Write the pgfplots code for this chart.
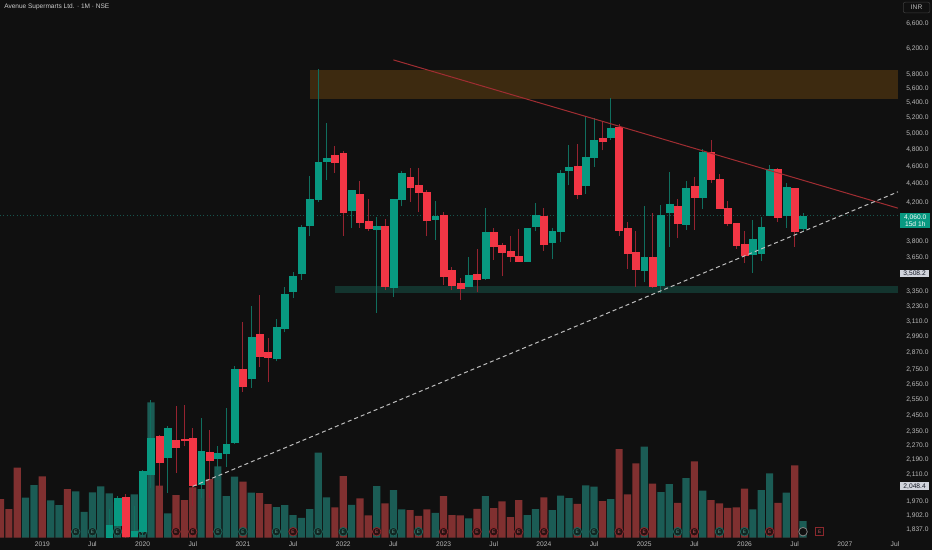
\documentclass[border=0pt]{standalone}
\usepackage{fontspec}
\setmainfont{Liberation Sans}
\usepackage{pgfplots}
\usepackage{pgfplotstable}
\pgfplotsset{compat=1.18}
\definecolor{bg}{RGB}{16,16,16}
\definecolor{upc}{RGB}{8,153,129}
\definecolor{dnc}{RGB}{242,54,69}
\definecolor{upw}{RGB}{16,110,94}
\definecolor{dnw}{RGB}{150,35,48}
\definecolor{vup}{RGB}{27,92,85}
\definecolor{vdn}{RGB}{128,48,48}
\definecolor{zoneo}{RGB}{61,42,16}
\definecolor{zonet}{RGB}{19,52,46}
\definecolor{trendr}{RGB}{160,45,50}
\definecolor{dashc}{RGB}{190,190,190}
\definecolor{lbl}{RGB}{185,185,185}
\definecolor{ttl}{RGB}{205,205,205}
\definecolor{lastc}{RGB}{22,85,76}
\definecolor{lbx}{RGB}{209,212,220}
\definecolor{lbxt}{RGB}{19,23,34}
\definecolor{inrb}{RGB}{60,60,60}
\definecolor{egf}{RGB}{18,38,34}
\definecolor{erf}{RGB}{40,18,18}
\definecolor{egd}{RGB}{30,100,90}
\definecolor{erd}{RGB}{140,40,45}
\definecolor{egt}{RGB}{90,160,150}
\definecolor{ert}{RGB}{200,90,95}
\newcommand\lblfont{\fontsize{5}{6}\selectfont}
\newcommand\efont{\fontsize{3.6}{4}\selectfont}

\pgfplotstableread{
m o h l c
8 1790 1936 1760 1855
9 1859 2000 1850 1986
10 1992 2010 1795 1808
11 1808 1951 1803 1831
12 1831 2137 1800 2128
13 2110 2550 2040 2315
14 2324 2330 2040 2176
15 2206 2383 2015 2374
16 2301 2511 2119 2260
17 2308 2518 2266 2302
18 2315 2374 1947 2052
19 2057 2434 1989 2241
20 2234 2360 1989 2191
21 2202 2266 2137 2229
22 2229 2497 2151 2280
23 2290 2774 2280 2751
24 2756 3107 2599 2637
25 2689 3233 2627 2984
26 3010 3319 2767 2847
27 2876 2980 2666 2840
28 2830 3127 2809 3059
29 3056 3390 3022 3331
30 3358 3520 3297 3488
31 3515 3964 3453 3944
32 3966 4484 3853 4237
33 4234 5878 4198 4647
34 4660 5138 4446 4700
35 4732 4844 4525 4654
36 4760 4787 3860 4100
37 4113 4335 3938 4327
38 4284 4431 3938 3997
39 4008 4234 3906 3939
40 3925 4043 3175 3958
41 3957 4030 3364 3397
42 3386 4234 3308 4234
43 4234 4544 4156 4525
44 4478 4583 4208 4366
45 4384 4580 4096 4304
46 4312 4335 3853 4011
47 4029 4216 3820 4059
48 4069 4103 3410 3486
49 3540 3565 3367 3404
50 3427 3470 3283 3384
51 3399 3658 3395 3494
52 3500 3734 3345 3456
53 3463 4139 3453 3896
54 3896 3933 3632 3756
55 3765 3791 3485 3707
56 3716 3853 3611 3663
57 3663 3927 3611 3617
58 3617 3940 3611 3938
59 3950 4192 3906 4064
60 4060 4142 3718 3780
61 3793 3935 3638 3909
62 3909 4553 3797 4518
63 4552 4856 4384 4590
64 4597 4869 4237 4288
65 4381 5209 4291 4707
66 4711 5200 4594 4919
67 4935 5165 4788 4907
68 4947 5464 4919 5065
69 5072 5122 3860 3911
70 3938 4000 3550 3697
71 3707 3909 3394 3547
72 3541 4156 3430 3655
73 3659 4085 3386 3397
74 3410 4174 3339 4069
75 4096 4532 3753 4184
76 4163 4237 3834 3989
77 3979 4428 3918 4354
78 4376 4475 3918 4251
79 4251 4802 4128 4765
80 4765 4911 4408 4457
81 4457 4513 4130 4139
82 4139 4209 3952 3989
83 3983 3989 3733 3767
84 3780 3909 3601 3676
85 3682 4018 3517 3830
86 3689 4043 3617 3941
87 4064 4621 4054 4571
88 4571 4575 3995 4044
89 4064 4412 3941 4365
90 4354 4356 3753 3909
91 3939 4088 3906 4060
}\candles

\pgfplotstableread{
m v u
-5 38.3 0
-4 28.3 0
-3 69.7 0
-2 39.7 1
-1 52.3 1
0 61 0
1 37 1
2 32.3 1
3 48.3 0
4 46 1
5 25.7 1
6 45 1
7 51 1
8 44 1
9 35 1
10 30 0
11 43 1
12 60 1
13 135 1
14 51.7 0
15 24 1
16 42.3 0
17 37.3 0
18 50 0
19 48.3 1
20 58.3 0
21 71 1
22 41.3 1
23 60.7 1
24 55.7 0
25 44.7 1
26 44.3 0
27 33.3 0
28 30.3 1
29 32.3 1
30 22.3 1
31 19.7 1
32 28.3 1
33 84.7 1
34 40 1
35 30 0
36 61.3 0
37 32.7 1
38 39 0
39 22 0
40 51.3 1
41 34 0
42 47.3 1
43 28 1
44 27.3 0
45 21.7 0
46 28 0
47 24.7 1
48 41.3 0
49 22.3 0
50 22 0
51 19 1
52 28.7 0
53 41.3 1
54 29.3 0
55 36 0
56 20.3 0
57 37.3 0
58 22.3 1
59 28.3 1
60 40 0
61 27.3 1
62 41.7 1
63 39.3 1
64 33.7 0
65 52 1
66 50.7 1
67 36.3 0
68 38.3 1
69 88.3 0
70 43 0
71 74 0
72 90.7 1
73 53.7 0
74 45.3 1
75 53.3 1
76 34.7 0
77 59.3 1
78 76 0
79 46.7 1
80 37.3 0
81 34 0
82 29.7 0
83 30 0
84 48.7 0
85 28 1
86 47.3 1
87 64 1
88 34.7 0
89 44.7 1
90 72 0
91 16.3 1
}\vols

\begin{document}
\begin{tikzpicture}
\fill[bg] (0,0) rectangle (699pt,412.5pt);
\pgfplotstablegetrowsof{\candles}
\pgfmathtruncatemacro\lastrow{\pgfplotsretval-1}

% ---------- volume pane ----------
\begin{axis}[at={(0pt,9.375pt)}, anchor=south west, scale only axis,
  width=673.5pt, height=403.125pt,
  xmin=-5.06, xmax=102.36, ymin=0, ymax=537.5,
  hide axis, clip mode=individual]
\addplot[ybar, bar width=0.86, bar shift=0pt, fill=vup, draw=none]
  table[x=m, y expr={\thisrow{u}==1 ? \thisrow{v} : 0}] {\vols};
\addplot[ybar, bar width=0.86, bar shift=0pt, fill=vdn, draw=none]
  table[x=m, y expr={\thisrow{u}==0 ? \thisrow{v} : 0}] {\vols};
% earnings markers
\addplot[only marks, mark=*, mark size=3.2pt, mark options={fill=egf, draw=egd, line width=0.6pt},
  nodes near coords={\efont\textcolor{egt}{E}}, nodes near coords align={center},
  every node near coord/.append style={inner sep=0pt, anchor=center}]
  coordinates {(4,5.8) (6,5.8) (9,5.8) (12,5.8) (21,5.8) (24,5.8) (28,5.8) (33,5.8) (36,5.8) (42,5.8) (45,5.8) (64,5.8) (66,5.8) (76,5.8) (81,5.8) (84,5.8)};
\addplot[only marks, mark=*, mark size=3.2pt, mark options={fill=erf, draw=erd, line width=0.6pt},
  nodes near coords={\efont\textcolor{ert}{E}}, nodes near coords align={center},
  every node near coord/.append style={inner sep=0pt, anchor=center}]
  coordinates {(16,5.8) (18,5.8) (30,5.8) (40,5.8) (48,5.8) (52,5.8) (54,5.8) (57,5.8) (60,5.8) (69,5.8) (72,5.8) (78,5.8) (87,5.8)};
\addplot[only marks, mark=*, mark size=3.2pt, mark options={fill=bg, draw=lbl!70!black, line width=0.6pt}]
  coordinates {(91,5.8)};
\addplot[only marks, mark=square, mark size=3pt, mark options={draw=erd, line width=0.6pt},
  nodes near coords={\efont\textcolor{ert}{E}}, nodes near coords align={center},
  every node near coord/.append style={inner sep=0pt, anchor=center}]
  coordinates {(93,5.8)};
\end{axis}

% ---------- price pane ----------
\begin{axis}[at={(0pt,9.375pt)}, anchor=south west, scale only axis,
  width=673.5pt, height=403.125pt,
  xmin=-5.06, xmax=102.36, ymode=log, ymin=1800, ymax=7005,
  clip mode=individual,
  axis line style={draw=none}, major tick length=0pt, minor tick length=0pt,
  yminorticks=false, xminorticks=false,
  xtick={0,6,...,102},
  xticklabels={2019,Jul,2020,Jul,2021,Jul,2022,Jul,2023,Jul,2024,Jul,2025,Jul,2026,Jul,2027,Jul},
  xticklabel style={font=\lblfont, text=lbl, anchor=center, yshift=-5.25pt, inner sep=0pt},
  ytick={6600,6200,5800,5600,5400,5200,5000,4800,4600,4400,4200,3800,3650,3350,3230,3110,2990,2870,2750,2650,2550,2450,2350,2270,2190,2110,1970,1902,1837},
  yticklabels={{6,600.0},{6,200.0},{5,800.0},{5,600.0},{5,400.0},{5,200.0},{5,000.0},{4,800.0},{4,600.0},{4,400.0},{4,200.0},{3,800.0},{3,650.0},{3,350.0},{3,230.0},{3,110.0},{2,990.0},{2,870.0},{2,750.0},{2,650.0},{2,550.0},{2,450.0},{2,350.0},{2,270.0},{2,190.0},{2,110.0},{1,970.0},{1,902.0},{1,837.0}},
  yticklabel pos=right,
  yticklabel style={font=\lblfont, text=lbl, anchor=west, inner sep=0pt, xshift=6pt}]

% zones
\addplot[fill=zoneo, draw=none] coordinates {(32,5452) (102.36,5452) (102.36,5872) (32,5872)} -- cycle;
\addplot[fill=zonet, draw=none] coordinates {(35,3337) (102.36,3337) (102.36,3401) (35,3401)} -- cycle;
% last price line
\addplot[lastc, dotted, line width=0.5pt] coordinates {(-5.06,4060) (102.36,4060)};

% candles
\pgfplotsinvokeforeach{0,...,\lastrow}{
  \pgfplotstablegetelem{#1}{m}\of\candles \edef\cm{\pgfplotsretval}
  \pgfplotstablegetelem{#1}{o}\of\candles \edef\co{\pgfplotsretval}
  \pgfplotstablegetelem{#1}{h}\of\candles \edef\ch{\pgfplotsretval}
  \pgfplotstablegetelem{#1}{l}\of\candles \edef\cl{\pgfplotsretval}
  \pgfplotstablegetelem{#1}{c}\of\candles \edef\cc{\pgfplotsretval}
  \pgfmathsetmacro\xa{\cm-0.41}
  \pgfmathsetmacro\xb{\cm+0.41}
  \pgfmathtruncatemacro\isup{\cc>=\co ? 1 : 0}
  \ifnum\isup=1 \def\bodyc{upc}\def\wickc{upw}\else\def\bodyc{dnc}\def\wickc{dnw}\fi
  \edef\doplot{%
    \noexpand\addplot[draw=\wickc, line width=0.75pt, forget plot] coordinates {(\cm,\cl) (\cm,\ch)};
    \noexpand\addplot[fill=\bodyc, draw=\bodyc, line width=0.3pt, forget plot] coordinates {(\xa,\co) (\xb,\co) (\xb,\cc) (\xa,\cc)} -- cycle;
  }\doplot
}

% trend lines
\addplot[trendr, line width=0.75pt] coordinates {(42,6020) (102.36,4138)};
\addplot[dashc, line width=0.75pt, dash pattern=on 3pt off 2.25pt] coordinates {(18,2048.4) (102.36,4313)};

% annotations
\node[anchor=north west, font=\fontsize{4.9}{6}\selectfont, text=ttl, inner sep=0pt, xshift=3pt, yshift=-2.8pt] at (rel axis cs:0,1) {Avenue Supermarts Ltd. · 1M · NSE};
\node[draw=inrb, rounded corners=1.5pt, font=\lblfont, text=lbl, minimum width=20pt, minimum height=8pt, inner sep=0pt, anchor=north west, xshift=3.75pt, yshift=-1.5pt] at (rel axis cs:1,1) {INR};
\node[fill=upc, text=white, font=\fontsize{5}{5.6}\selectfont, align=center, inner sep=0.8pt, minimum width=22.5pt, anchor=north west, xshift=1.5pt, yshift=1.9pt] at (axis cs:102.36,4060) {4,060.0\\15d 1h};
\node[fill=lbx, text=lbxt, font=\lblfont, inner sep=0.8pt, minimum width=21.5pt, anchor=west, xshift=1.5pt] at (axis cs:102.36,3508.2) {3,508.2};
\node[fill=lbx, text=lbxt, font=\lblfont, inner sep=0.8pt, minimum width=21.5pt, anchor=west, xshift=1.5pt] at (axis cs:102.36,2048.4) {2,048.4};
\end{axis}
\pgfresetboundingbox
\path[use as bounding box] (0,0) rectangle (699pt,412.5pt);
\end{tikzpicture}
\end{document}
